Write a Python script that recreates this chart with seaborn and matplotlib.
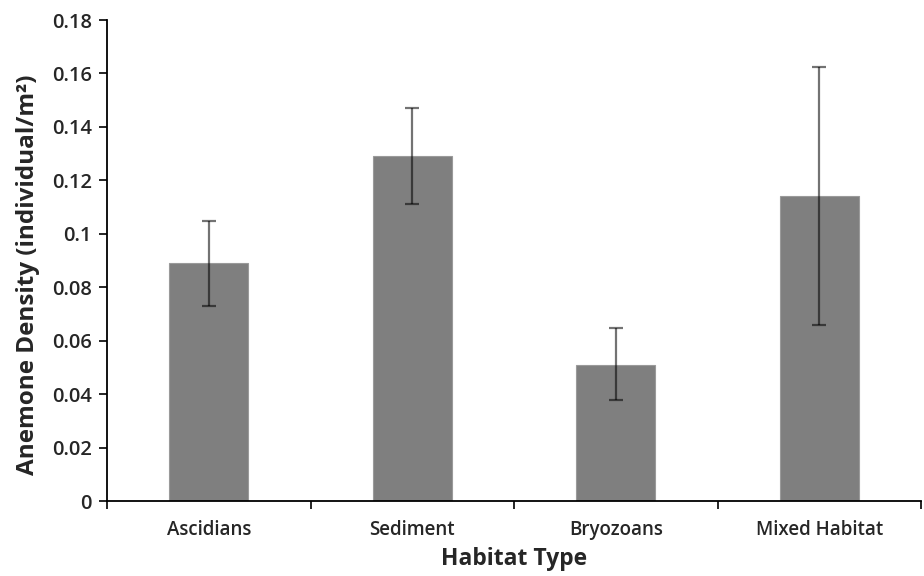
import matplotlib
matplotlib.use("Agg")
import matplotlib.pyplot as plt
import seaborn as sns
import pandas as pd
from matplotlib.ticker import FuncFormatter, FixedLocator

habitats = ["Ascidians", "Sediment", "Bryozoans", "Mixed Habitat"]
density = [0.0889, 0.1290, 0.0510, 0.1140]
err_low = [0.0730, 0.1112, 0.0378, 0.0659]
err_high = [0.1049, 0.1472, 0.0648, 0.1626]

sns.set_theme(style="white")
plt.rcParams["font.family"] = ["Open Sans", "DejaVu Sans"]

df = pd.DataFrame({"Habitat": habitats, "Density": density})

fig = plt.figure(figsize=(9.24, 5.76), dpi=100)
ax = fig.add_axes([0.1158, 0.1302, 0.881, 0.835])

sns.barplot(data=df, x="Habitat", y="Density", color="#7f7f7f", saturation=1,
            width=0.39, edgecolor="#9a9a9a", linewidth=0.8, ax=ax, errorbar=None)

xs = range(len(habitats))
yerr = [[d - lo for d, lo in zip(density, err_low)],
        [hi - d for d, hi in zip(density, err_high)]]
ax.errorbar(list(xs), density, yerr=yerr, fmt="none", ecolor="black", alpha=0.55,
            elinewidth=1.6, capsize=5, capthick=1.6, zorder=5)

ax.set_xlim(-0.5, 3.5)
ax.set_ylim(0, 0.18)
ax.set_yticks([i * 0.02 for i in range(10)])
ax.yaxis.set_major_formatter(FuncFormatter(lambda v, p: "0" if abs(v) < 1e-9 else f"{v:g}"))

ax.xaxis.set_minor_locator(FixedLocator([-0.5, 0.5, 1.5, 2.5, 3.5]))
ax.tick_params(axis="x", which="major", length=0, pad=14, labelsize=13.5)
ax.tick_params(axis="x", which="minor", length=6, width=1.2, color="black", direction="out", bottom=True)
ax.tick_params(axis="y", which="major", length=6, width=1.2, color="black", direction="out", left=True, labelsize=14.5, pad=5)
for lab in ax.get_xticklabels() + ax.get_yticklabels():
    lab.set_fontweight("semibold")

for s in ["top", "right"]:
    ax.spines[s].set_visible(False)
for s in ["left", "bottom"]:
    ax.spines[s].set_color("black")
    ax.spines[s].set_linewidth(1.3)

ax.set_xlabel("Habitat Type", fontsize=16.5, fontweight="bold", labelpad=5)
ax.set_ylabel("Anemone Density (individual/m²)", fontsize=17.5, fontweight="bold")
ax.yaxis.set_label_coords(-0.082, 0.47)

fig.savefig("out.png", dpi=100)
